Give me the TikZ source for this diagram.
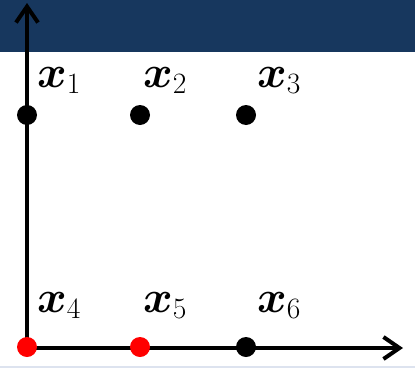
\RequirePackage{fix-cm}
\documentclass[tikz,border=0pt]{standalone}
\usepackage{amsmath,bm}
\usetikzlibrary{arrows.meta,positioning}
\definecolor{BandBlue}{HTML}{17375E}
\definecolor{EdgeGray}{HTML}{DDE3EF}
\DeclareMathSizes{64}{64}{42}{32}

\begin{document}
\begin{tikzpicture}[x=0.5mm,y=-0.5mm,
dot/.style={circle,fill=black,inner sep=0pt,minimum size=10mm},
reddot/.style={dot,fill=red},
axis/.style={-{Straight Barb[length=8mm,width=11mm,line width=2mm]},line width=2mm,draw=black},
lbl/.style={anchor=base west,inner sep=0pt,font=\fontsize{64}{70}\selectfont}
]
\fill[white] (0,0) rectangle (415,368);
\fill[BandBlue] (0,0) rectangle (415,52);
\fill[EdgeGray] (0,366) rectangle (415,368);
\useasboundingbox (0,0) rectangle (415,368);
\coordinate (o) at (27,348);
\coordinate (ytip) at (27,3);
\coordinate (xtip) at (403,348);
\draw[axis] (o) -- (ytip);
\draw[axis] (o) -- (xtip);
\node[dot] (p1) at (27,115) {};
\node[dot] (p2) at (140,115) {};
\node[dot] (p3) at (246,115) {};
\node[reddot] (p4) at (27,347) {};
\node[reddot] (p5) at (140,347) {};
\node[dot] (p6) at (246,347) {};
\node[lbl] (l1) at (37,87) {$\bm{x}_1$};
\node[lbl] (l2) at (143,87) {$\bm{x}_2$};
\node[lbl] (l3) at (257,87) {$\bm{x}_3$};
\node[lbl] (l4) at (37,312) {$\bm{x}_4$};
\node[lbl] (l5) at (143,312) {$\bm{x}_5$};
\node[lbl] (l6) at (257,312) {$\bm{x}_6$};
\end{tikzpicture}
\end{document}
